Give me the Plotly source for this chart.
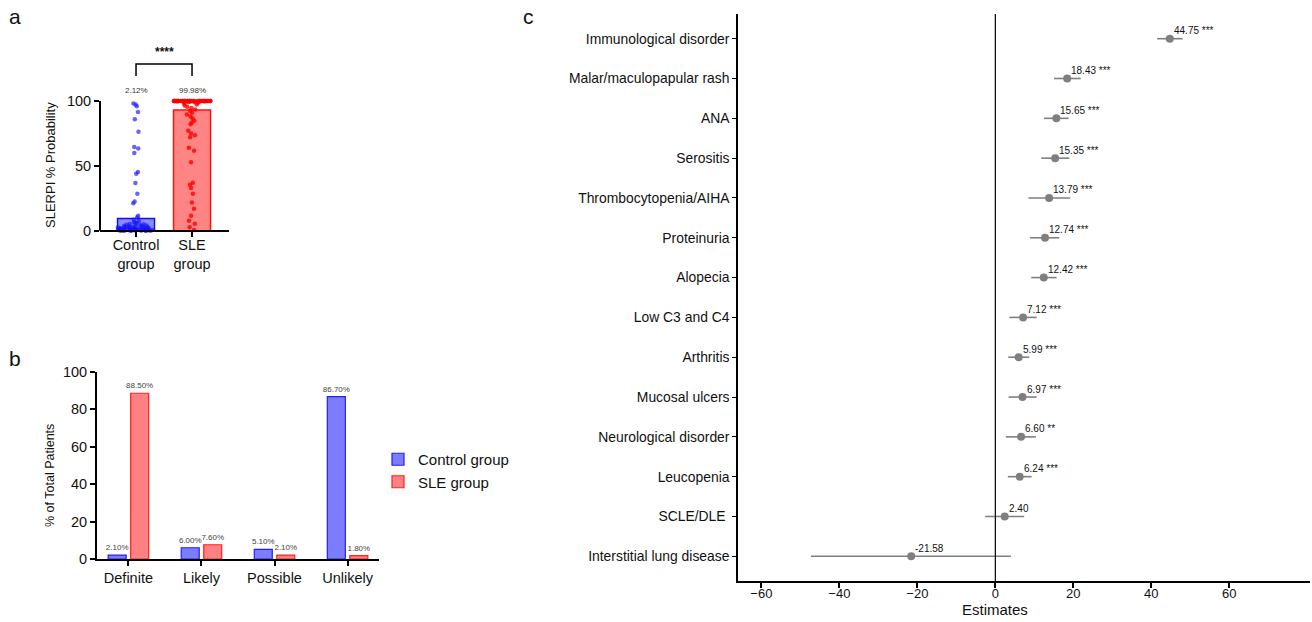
import plotly.graph_objects as go

W, H = 1312, 622
FONT = "Liberation Sans, Arial, Helvetica, sans-serif"

# ---------------- Panel a data ----------------
a_groups = ["Control<br>group", "SLE<br>group"]
a_positions = [0, 1]
a_bar_means = [9.5, 93.0]
a_medians = ["2.12%", "99.98%"]
a_control_points = [
    98.0, 97.2, 96.0, 91.5, 86.0, 76.2, 64.6, 63.3, 60.0, 45.2, 44.0, 36.7,
    28.4, 22.5, 21.2, 11.6, 10.3, 8.5, 7.2, 6.5, 6.0, 5.6, 5.2, 4.9, 4.6, 4.3,
    4.0, 3.8, 3.6, 3.4, 3.2, 3.0, 2.9, 2.8, 2.6, 2.5, 2.4, 2.3, 2.2, 2.15, 2.12,
    2.1, 2.0, 1.9, 1.8, 1.7, 1.6, 1.5, 1.45, 1.4, 1.3, 1.25, 1.2, 1.1, 1.05, 1.0,
    0.95, 0.9, 0.85, 0.8, 0.75, 0.7, 0.65, 0.6, 0.55, 0.5, 0.45, 0.4, 0.35, 0.3,
    0.25, 0.2, 0.15, 0.1, 0.08, 0.05, 0.03, 0.02, 0.01, 0.0,
]
a_sle_points = [
    100.0, 100.0, 100.0, 100.0, 100.0, 100.0, 100.0, 100.0, 100.0, 100.0,
    100.0, 100.0, 100.0, 100.0, 100.0, 100.0, 100.0, 100.0, 100.0, 100.0,
    100.0, 100.0, 100.0, 100.0, 100.0, 100.0, 100.0, 100.0, 100.0, 100.0,
    99.99, 99.99, 99.98, 99.98, 99.98, 99.97, 99.97, 99.96, 99.95, 99.94,
    99.9, 99.9, 99.85, 99.8, 99.7, 99.6, 99.5, 99.3, 99.0, 98.6,
    98.0, 97.3, 96.5, 95.5, 94.6, 93.5, 92.5, 91.0, 89.5, 88.0,
    86.5, 85.0, 83.5, 82.0, 77.0, 75.0, 73.5, 72.0, 64.0, 61.7,
    52.7, 37.0, 35.5, 33.0, 28.5, 21.8, 17.0, 11.6, 7.7, 5.4, 2.6, 0.5,
]

# ---------------- Panel b data ----------------
b_categories = ["Definite", "Likely", "Possible", "Unlikely"]
b_control = [2.1, 6.0, 5.1, 86.7]
b_sle = [88.5, 7.6, 2.1, 1.8]

# ---------------- Panel c data ----------------
c_labels = [
    "Immunological disorder", "Malar/maculopapular rash", "ANA", "Serositis",
    "Thrombocytopenia/AIHA", "Proteinuria", "Alopecia", "Low C3 and C4",
    "Arthritis", "Mucosal ulcers", "Neurological disorder", "Leucopenia",
    "SCLE/DLE\u00a0", "Interstitial lung disease",
]
c_est = [44.75, 18.43, 15.65, 15.35, 13.79, 12.74, 12.42, 7.12, 5.99, 6.97, 6.60, 6.24, 2.40, -21.58]
c_low = [41.5, 15.05, 12.5, 11.8, 8.5, 8.9, 9.2, 3.6, 3.3, 3.4, 2.7, 3.2, -2.6, -47.3]
c_high = [48.05, 21.9, 18.8, 19.0, 19.2, 16.4, 15.7, 10.6, 8.7, 10.6, 10.4, 9.3, 7.4, 4.0]
c_sig = ["***", "***", "***", "***", "***", "***", "***", "***", "***", "***", "**", "***", "", ""]
c_rows = list(range(len(c_labels)))


def px_x(p):
    return p / W


def px_y(p):
    return 1 - p / H


BLUE_FILL = "rgba(100,100,255,0.75)"
BLUE_LINE = "#1010ff"
RED_FILL = "rgba(255,110,110,0.85)"
RED_LINE = "#ff1010"

fig = go.Figure()

# ---------- Panel a ----------
fig.add_trace(go.Bar(
    x=a_positions, y=a_bar_means, width=0.66,
    marker=dict(color=[BLUE_FILL, RED_FILL], line=dict(color=[BLUE_LINE, RED_LINE], width=1.5)),
    xaxis="x", yaxis="y", showlegend=False, hoverinfo="skip",
))
for pos, pts, col in [(a_positions[0], a_control_points, "rgba(20,20,255,0.65)"),
                      (a_positions[1], a_sle_points, "rgba(255,0,0,0.8)")]:
    fig.add_trace(go.Box(
        y=pts, x0=pos, width=0.66, boxpoints="all", jitter=1, pointpos=0,
        fillcolor="rgba(0,0,0,0)", line=dict(width=0, color="rgba(0,0,0,0)"),
        marker=dict(color=col, size=4.5),
        xaxis="x", yaxis="y", showlegend=False, hoverinfo="skip",
    ))

# ---------- Panel b ----------
fig.add_trace(go.Bar(
    x=b_categories, y=b_control, name="Control group",
    marker=dict(color="rgba(110,110,255,0.9)", line=dict(color="#2020ff", width=1.2)),
    text=[f"{v:.2f}%" for v in b_control], textposition="outside", constraintext="none",
    textfont=dict(size=8, color="#444"), cliponaxis=False,
    xaxis="x2", yaxis="y2", hoverinfo="skip",
))
fig.add_trace(go.Bar(
    x=b_categories, y=b_sle, name="SLE group",
    marker=dict(color="rgba(255,115,115,0.9)", line=dict(color="#ff2020", width=1.2)),
    text=[f"{v:.2f}%" for v in b_sle], textposition="outside", constraintext="none",
    textfont=dict(size=8, color="#444"), cliponaxis=False,
    xaxis="x2", yaxis="y2", hoverinfo="skip",
))

# ---------- Panel c ----------
fig.add_trace(go.Scatter(
    x=c_est, y=c_rows, mode="markers",
    marker=dict(color="#7f7f7f", size=8),
    error_x=dict(type="data", symmetric=False,
                 array=[h - e for h, e in zip(c_high, c_est)],
                 arrayminus=[e - l for e, l in zip(c_est, c_low)],
                 color="#7f7f7f", thickness=1.6, width=0),
    xaxis="x3", yaxis="y3", showlegend=False, hoverinfo="skip",
))

annotations = []
for e, r, s in zip(c_est, c_rows, c_sig):
    txt = f"{e:.2f}"
    if s:
        txt += f" <span style='font-size:10px'>{s}</span>"
    annotations.append(dict(x=e, y=r, xref="x3", yref="y3", text=txt, showarrow=False,
                            xanchor="left", yanchor="middle", xshift=2, yshift=8,
                            font=dict(size=10, color="#111")))

# Panel a annotations
for pos, m in zip(a_positions, a_medians):
    annotations.append(dict(x=pos, y=px_y(90), xref="x", yref="paper", text=m, showarrow=False,
                            xanchor="center", yanchor="middle", font=dict(size=8, color="#333")))
annotations.append(dict(x=(a_positions[0] + a_positions[1]) / 2, y=px_y(52), xref="x", yref="paper",
                        text="<b>****</b>", showarrow=False, xanchor="center", yanchor="middle",
                        font=dict(size=12, color="#111")))
annotations.append(dict(x=px_x(50), y=px_y(165), xref="paper", yref="paper", text="SLERPI % Probability",
                        showarrow=False, textangle=-90, xanchor="center", yanchor="middle",
                        font=dict(size=13, color="#111")))
annotations.append(dict(x=px_x(50), y=px_y(476), xref="paper", yref="paper", text="% of Total Patients",
                        showarrow=False, textangle=-90, xanchor="center", yanchor="middle",
                        font=dict(size=12.5, color="#111")))
annotations.append(dict(x=0, y=px_y(609), xref="x3", yref="paper", text="Estimates",
                        showarrow=False, xanchor="center", yanchor="middle",
                        font=dict(size=15, color="#111")))
for lab, xx, yy in [("a", 15, 17), ("b", 15, 358), ("c", 528, 17)]:
    annotations.append(dict(x=px_x(xx), y=px_y(yy), xref="paper", yref="paper", text=lab,
                            showarrow=False, xanchor="center", yanchor="middle",
                            font=dict(size=21, color="#111")))

shapes = [
    dict(type="line", xref="paper", yref="y", x0=px_x(100), x1=px_x(100), y0=0, y1=100,
         line=dict(color="black", width=2)),
    dict(type="path", xref="x", yref="paper",
         path=f"M 0,{px_y(76)} L 0,{px_y(64)} L 1,{px_y(64)} L 1,{px_y(76)}",
         line=dict(color="black", width=1.5)),
    dict(type="line", xref="x3", yref="y3 domain", x0=0, x1=0, y0=0, y1=1,
         line=dict(color="black", width=1.2)),
]

tickfont = dict(size=14.5, color="#111", family=FONT)

fig.update_layout(
    template="none",
    width=W, height=H,
    margin=dict(l=0, r=0, t=0, b=0, pad=0, autoexpand=False),
    paper_bgcolor="white", plot_bgcolor="white",
    font=dict(family=FONT, color="#111"),
    barmode="group", bargap=0.384, bargroupgap=0.2,
    showlegend=True,
    legend=dict(x=px_x(378), y=px_y(443), xanchor="left", yanchor="top",
                font=dict(size=15, color="#111"), bgcolor="rgba(0,0,0,0)", tracegroupgap=0),
    annotations=annotations, shapes=shapes,
    xaxis=dict(domain=[px_x(100), px_x(229)], range=[-0.643, 1.66], anchor="free",
               position=px_y(230.7), tickvals=a_positions, ticktext=a_groups, automargin=False,
               showline=True, linecolor="black", linewidth=2, ticks="outside", ticklen=5,
               tickwidth=1.5, tickcolor="black", tickfont=tickfont, showgrid=False, zeroline=False,
               ticklabelstandoff=-4),
    yaxis=dict(domain=[px_y(233.3), px_y(95.8)], range=[-2, 104], anchor="x", automargin=False,
               tickvals=[0, 50, 100], showline=False, ticks="outside", ticklen=5, tickwidth=1.5,
               tickcolor="black", tickfont=tickfont, showgrid=False, zeroline=False),
    xaxis2=dict(domain=[px_x(97), px_x(379)], range=[-0.43, 3.43], anchor="y2", automargin=False,
                showline=True, linecolor="black", linewidth=2, ticks="outside", ticklen=5,
                tickwidth=1.5, tickcolor="black", tickfont=tickfont, showgrid=False, zeroline=False),
    yaxis2=dict(domain=[px_y(559), px_y(371.7)], range=[0, 100], dtick=20, anchor="x2", automargin=False,
                showline=True, linecolor="black", linewidth=2, ticks="outside", ticklen=5,
                tickwidth=1.5, tickcolor="black", tickfont=tickfont, showgrid=False, zeroline=False),
    xaxis3=dict(domain=[px_x(738), px_x(1310)], range=[-66, 80.7], anchor="y3", automargin=False,
                tickvals=[-60, -40, -20, 0, 20, 40, 60],
                showline=True, linecolor="black", linewidth=1.5, ticks="outside", ticklen=5,
                tickwidth=1.5, tickcolor="black", tickfont=dict(size=13, color="#111", family=FONT),
                showgrid=False, zeroline=False, ticklabelstandoff=-5),
    yaxis3=dict(domain=[px_y(581), px_y(14)], range=[13.62, -0.62], anchor="x3", automargin=False,
                tickvals=c_rows, ticktext=c_labels,
                showline=True, linecolor="black", linewidth=1.5, ticks="outside", ticklen=4,
                tickwidth=1.3, tickcolor="black", tickfont=dict(size=13.9, color="#111", family=FONT),
                showgrid=False, zeroline=False),
)

fig.write_html("out.html", post_script="document.body.style.margin='0';",
               config={"displayModeBar": False})
